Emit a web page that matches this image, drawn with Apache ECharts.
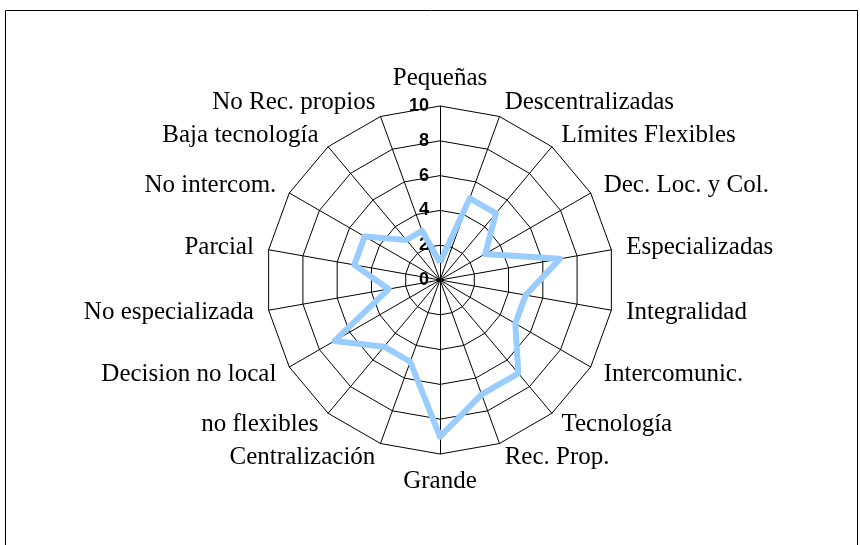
<!DOCTYPE html>
<html>
<head>
<meta charset="utf-8">
<script src="https://cdn.jsdelivr.net/npm/echarts@6/dist/echarts.min.js"></script>
<style>
  html, body { margin: 0; padding: 0; background: #fff; }
  #echarts { width: 860px; height: 545px; }
</style>
</head>
<body>
<div id="echarts"></div>
<script>
// ejes del radar, en sentido horario desde arriba
var categorias = ['Pequeñas', 'Descentralizadas', 'Límites Flexibles', 'Dec. Loc. y Col.',
  'Especializadas', 'Integralidad', 'Intercomunic.', 'Tecnología', 'Rec. Prop.', 'Grande',
  'Centralización', 'no flexibles', 'Decision no local', 'No especializada', 'Parcial',
  'No intercom.', 'Baja tecnología', 'No Rec. propios']
var valores = [1, 5, 5, 3, 7, 5, 5, 7, 7, 9, 5, 5, 7, 3, 5, 5, 3, 3]
var escalaMax = 10

var myChart = echarts.init(document.getElementById('echarts'))

// echarts dibuja los ejes en sentido antihorario: se invierte el orden (menos el primero)
var orden = [0]
for (var k = categorias.length - 1; k > 0; k--) orden.push(k)

//indicadores: solo el primero lleva las etiquetas 0..10
var indicadores = orden.map(function (i) {
  var ind = { name: categorias[i], min: 0, max: escalaMax }
  if (i === 0) ind.axisLabel = { show: true }
  return ind
})
var valoresOrden = orden.map(function (i) { return valores[i] })

myChart.setOption({
  animation: false,
  graphic: [{
    type: 'rect',
    shape: { x: 5.5, y: 10.5, width: 852, height: 560 },
    style: { fill: 'none', stroke: '#000', lineWidth: 1 }
  }],
  radar: {
    center: [440, 280],
    radius: 174,
    startAngle: 90,
    splitNumber: 5,
    shape: 'polygon',
    nameGap: 15,
    axisName: {
      color: '#000',
      fontFamily: 'Liberation Serif',
      fontSize: 25
    },
    axisLine: { lineStyle: { color: '#000', width: 1 } },
    splitLine: { lineStyle: { color: '#000', width: 1 } },
    splitArea: { show: false },
    axisTick: { show: false },
    axisLabel: {
      show: false,
      color: '#000',
      fontFamily: 'Liberation Sans',
      fontWeight: 'bold',
      fontSize: 18,
      margin: 11
    },
    indicator: indicadores
  },
  series: [{
    type: 'radar',
    symbol: 'none',
    lineStyle: { color: '#99CCFF', width: 6 },
    data: [{ value: valoresOrden }]
  }]
})
</script>
</body>
</html>
